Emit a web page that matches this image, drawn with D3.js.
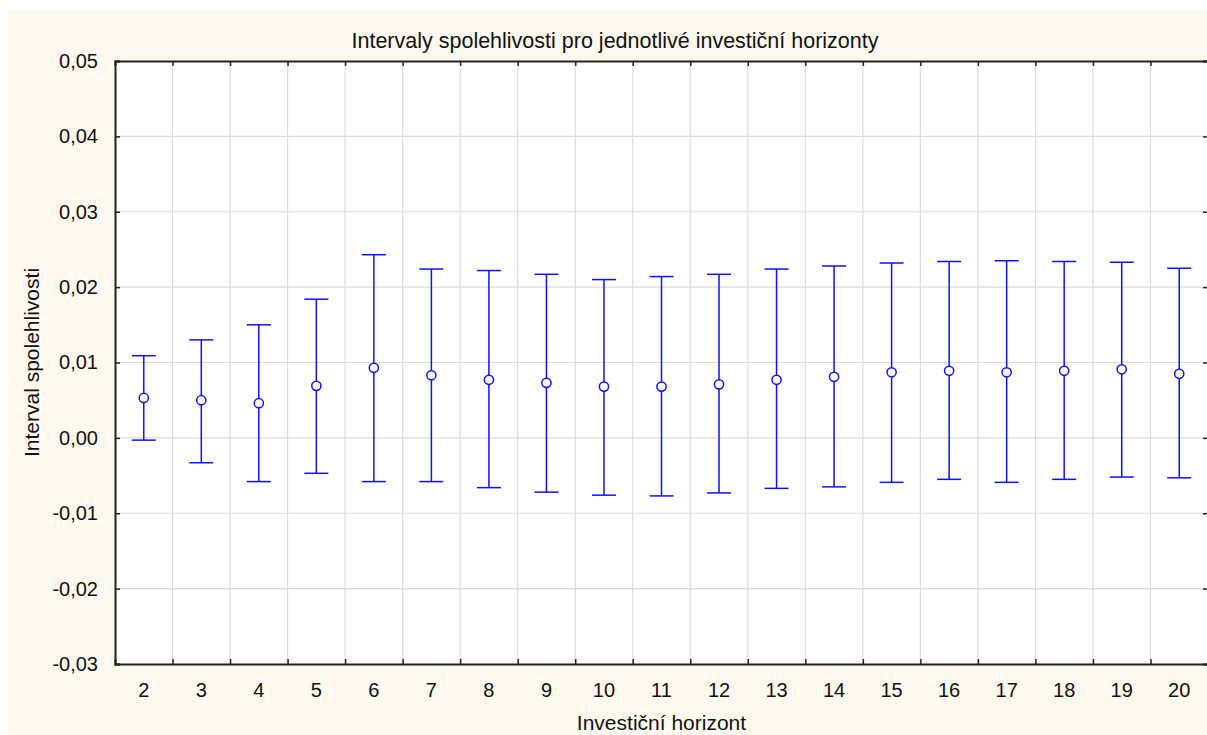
<!DOCTYPE html>
<html>
<head>
<meta charset="utf-8">
<script src="https://cdn.jsdelivr.net/npm/d3@7"></script>
<style>
  body { margin: 0; background: #fff; }
  text { font-family: "Liberation Sans", Arial, sans-serif; fill: #111; }
</style>
</head>
<body>
<div id="chart"></div>
<script>
// investment horizons and the confidence intervals
let horizons = [2, 3, 4, 5, 6, 7, 8, 9, 10, 11, 12, 13, 14, 15, 16, 17, 18, 19, 20];
let means = [0.0053, 0.0050, 0.0046, 0.0069, 0.0093, 0.0083, 0.0077, 0.0073, 0.0068, 0.0068,
  0.0071, 0.0077, 0.0081, 0.0087, 0.0089, 0.0087, 0.0089, 0.0091, 0.0085];
let upper = [0.0109, 0.0130, 0.0150, 0.0184, 0.0243, 0.0224, 0.0222, 0.0217, 0.0210, 0.0214,
  0.0217, 0.0224, 0.0228, 0.0232, 0.0234, 0.0235, 0.0234, 0.0233, 0.0225];
let lower = [-0.0003, -0.0033, -0.0058, -0.0047, -0.0058, -0.0058, -0.0066, -0.0072, -0.0076, -0.0077,
  -0.0073, -0.0067, -0.0065, -0.0059, -0.0055, -0.0059, -0.0055, -0.0052, -0.0053];
let yTicks = [-0.03, -0.02, -0.01, 0, 0.01, 0.02, 0.03, 0.04, 0.05];

let title = "Intervaly spolehlivosti pro jednotlivé investiční horizonty";
let xTitle = "Investiční horizont";
let yTitle = "Interval spolehlivosti";

let areaWidth = 1207;
let areaHeight = 735;
let border = { top: 61, bottom: 71, left: 115, right: -1 };
let width = areaWidth - border.left - border.right;
let height = areaHeight - border.top - border.bottom;

let czLocale = d3.formatLocale({ decimal: ",", thousands: " ", grouping: [3], currency: ["", " Kč"], minus: "-" });
let fmt = czLocale.format(".2f");

let rows = horizons.map((h, i) => ({ h: h, mean: means[i], lo: lower[i], hi: upper[i] }));

let svg = d3.select("#chart").append("svg")
  .attr("width", areaWidth)
  .attr("height", areaHeight);

svg.append("rect")
  .attr("x", 8).attr("y", 10)
  .attr("width", areaWidth - 8).attr("height", areaHeight - 10)
  .attr("fill", "#fef9ee");

let plotGroup = svg.append("g")
  .attr("transform", `translate(${border.left}, ${border.top})`);

let xScale = d3.scaleBand().domain(horizons).range([0, width]).padding(0);
let yScale = d3.scaleLinear().domain([-0.03, 0.05]).range([height, 0]);

plotGroup.append("rect")
  .attr("width", width).attr("height", height)
  .attr("fill", "#fff");

// grid
let bounds = horizons.slice(1).map(h => xScale(h));
plotGroup.append("g").selectAll("line").data(bounds).enter().append("line")
  .attr("x1", d => d).attr("x2", d => d)
  .attr("y1", 0).attr("y2", height)
  .attr("stroke", "#dcdcdc").attr("stroke-width", 1.2);
plotGroup.append("g").selectAll("line").data(yTicks.slice(1, -1)).enter().append("line")
  .attr("x1", 0).attr("x2", width)
  .attr("y1", d => yScale(d)).attr("y2", d => yScale(d))
  .attr("stroke", "#dcdcdc").attr("stroke-width", 1.2);

// axes: ticks point inwards
let tickScale = d3.scaleLinear().domain([0, horizons.length]).range([0, width]);
let boundTicks = d3.range(1, horizons.length);

let leftAx = d3.axisLeft(yScale).tickValues(yTicks).tickFormat(fmt).tickSize(-5).tickPadding(17);
let yAx = plotGroup.append("g").call(leftAx);

let rightAx = d3.axisRight(yScale).tickValues(yTicks).tickFormat("").tickSize(-5);
plotGroup.append("g").attr("transform", `translate(${width}, 0)`).call(rightAx);

let bottomAx = d3.axisBottom(tickScale).tickValues(boundTicks).tickFormat("").tickSize(-5);
plotGroup.append("g").attr("transform", `translate(0, ${height})`).call(bottomAx);

let topAx = d3.axisTop(tickScale).tickValues(boundTicks).tickFormat("").tickSize(-5);
plotGroup.append("g").call(topAx);

plotGroup.selectAll(".domain").attr("stroke", "#222").attr("stroke-width", 2);
plotGroup.selectAll(".tick line").attr("stroke", "#222").attr("stroke-width", 1.5);
yAx.selectAll("text").attr("font-size", "20px").attr("fill", "#111")
  .attr("font-family", "Liberation Sans, Arial, sans-serif");

// category labels
plotGroup.append("g").selectAll("text").data(horizons).enter().append("text")
  .attr("x", d => xScale(d) + xScale.bandwidth() / 2)
  .attr("y", height + 33)
  .attr("text-anchor", "middle")
  .attr("font-size", "20px")
  .text(d => d);

// error bars
let capHalf = 12;
let bars = plotGroup.append("g").selectAll("g").data(rows).enter().append("g")
  .attr("transform", d => `translate(${xScale(d.h) + xScale.bandwidth() / 2}, 0)`);

bars.append("line")
  .attr("x1", 0).attr("x2", 0)
  .attr("y1", d => yScale(d.hi)).attr("y2", d => yScale(d.lo))
  .attr("stroke", "#1010ff").attr("stroke-width", 1.5);
bars.append("line")
  .attr("x1", -capHalf).attr("x2", capHalf)
  .attr("y1", d => yScale(d.hi)).attr("y2", d => yScale(d.hi))
  .attr("stroke", "#1010ff").attr("stroke-width", 1.5);
bars.append("line")
  .attr("x1", -capHalf).attr("x2", capHalf)
  .attr("y1", d => yScale(d.lo)).attr("y2", d => yScale(d.lo))
  .attr("stroke", "#1010ff").attr("stroke-width", 1.5);
bars.append("circle")
  .attr("cy", d => yScale(d.mean))
  .attr("r", 4.6)
  .attr("fill", "#fff")
  .attr("stroke", "#1010ff").attr("stroke-width", 1.5);

// titles
svg.append("text")
  .attr("x", 615).attr("y", 48)
  .attr("text-anchor", "middle")
  .attr("font-size", "21.5px")
  .text(title);

svg.append("text")
  .attr("x", border.left + width / 2).attr("y", 730)
  .attr("text-anchor", "middle")
  .attr("font-size", "21px")
  .text(xTitle);

svg.append("text")
  .attr("transform", `translate(39, ${border.top + height / 2}) rotate(-90)`)
  .attr("text-anchor", "middle")
  .attr("font-size", "21px")
  .text(yTitle);
</script>
</body>
</html>
